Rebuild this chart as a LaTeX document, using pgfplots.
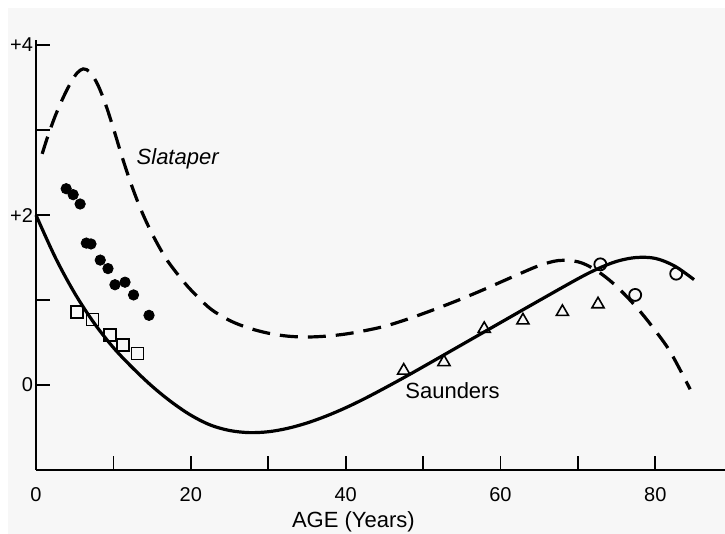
\documentclass[border=0pt]{standalone}
\usepackage{pgfplots}
\pgfplotsset{compat=1.18}
\usepackage{fontspec}
\setmainfont{Liberation Sans}
\definecolor{bg}{HTML}{F7F7F7}
\begin{document}
\begin{tikzpicture}
\useasboundingbox (-18pt,-32pt) rectangle (344.5pt,235pt);
\fill[white] (-18pt,-32pt) rectangle (344.5pt,235pt);
\fill[bg] (-14pt,-32pt) rectangle (344.5pt,231pt);
\begin{axis}[
  at={(0,0)}, anchor=south west, scale only axis,
  width=344.5pt, height=215pt,
  xmin=0, xmax=89, ymin=-1, ymax=4.06,
  axis x line=bottom, axis y line=left,
  axis line style={-, line width=1pt},
  xtick align=inside, ytick align=inside,
  major tick length=7pt,
  tick style={line width=0.9pt, black},
  xtick={0,10,...,80},
  xticklabels={0,,20,,40,,60,,80},
  ytick={0,1,2,3,4},
  yticklabels={0,,+2,,+4},
  xticklabel style={font=\fontsize{10}{12}\selectfont, yshift=-5pt},
  yticklabel style={font=\fontsize{10}{12}\selectfont, xshift=2pt},
  clip=false,
]
% Slataper (dashed)
\addplot[black, line width=1.6pt, dash pattern=on 9pt off 5pt, smooth, tension=0.55] coordinates {
(0.8,2.72)(1.5,2.92)(2.5,3.17)(3.5,3.38)(4.5,3.56)(5.3,3.67)(6.1,3.72)(7,3.68)(8,3.53)(9,3.3)(10,3.02)(11,2.72)(12,2.44)(13,2.19)(14,1.97)(15,1.78)(16,1.61)(17,1.46)(18.5,1.28)(20,1.12)(22.5,0.9)(25,0.76)(27.5,0.67)(30,0.61)(32.5,0.575)(35,0.565)(37.5,0.575)(40,0.6)(42.5,0.64)(45,0.69)(47.5,0.76)(50,0.84)(52.5,0.925)(55,1.015)(57.5,1.11)(60,1.21)(62.5,1.31)(65,1.405)(67.5,1.465)(70,1.45)(72,1.37)(74,1.24)(76,1.07)(78,0.87)(80,0.64)(82,0.38)(84.5,-0.05)
};
% Saunders (solid)
\addplot[black, line width=1.6pt, smooth, tension=0.55] coordinates {
(0,2.0)(2.5,1.5)(5,1.08)(7.5,0.73)(10,0.44)(12.5,0.2)(15,-0.015)(17.5,-0.2)(20,-0.355)(22.5,-0.47)(25,-0.535)(27.5,-0.56)(30,-0.55)(32.5,-0.51)(35,-0.447)(37.5,-0.365)(40,-0.268)(42.5,-0.158)(45,-0.038)(47.5,0.086)(50,0.214)(55,0.474)(60,0.734)(65,0.994)(70,1.25)(72.5,1.365)(75,1.455)(77.5,1.5)(80,1.49)(82.5,1.4)(85,1.24)
};
% filled circles
\addplot[only marks, mark=*, mark size=2.6pt, black] coordinates {
(3.9,2.31)(4.8,2.24)(5.7,2.13)(6.5,1.67)(7.1,1.66)(8.3,1.47)(9.3,1.37)(10.2,1.18)(11.5,1.21)(12.6,1.06)(14.6,0.82)
};
% open squares
\addplot[only marks, mark=square, mark size=3pt, black, mark options={line width=0.9pt}] coordinates {
(5.3,0.86)(7.3,0.77)(9.6,0.59)(11.2,0.47)(13.1,0.37)
};
% open triangles
\addplot[only marks, mark=triangle, mark size=3.5pt, black, mark options={line width=0.8pt}] coordinates {
(47.5,0.17)(52.7,0.27)(57.9,0.66)(62.9,0.76)(68,0.86)(72.6,0.95)
};
% open circles
\addplot[only marks, mark=o, mark size=3pt, black, mark options={line width=0.9pt}] coordinates {
(72.9,1.42)(77.4,1.06)(82.7,1.31)
};
\node[font=\itshape\fontsize{11}{13}\selectfont] at (axis cs:18.3,2.66) {Slataper};
\node[font=\fontsize{11}{13}\selectfont] at (axis cs:53.8,-0.07) {Saunders};
\node[font=\fontsize{11}{13}\selectfont] at (axis cs:41,-1) [yshift=-26pt] {AGE (Years)};
\end{axis}
\end{tikzpicture}
\end{document}
